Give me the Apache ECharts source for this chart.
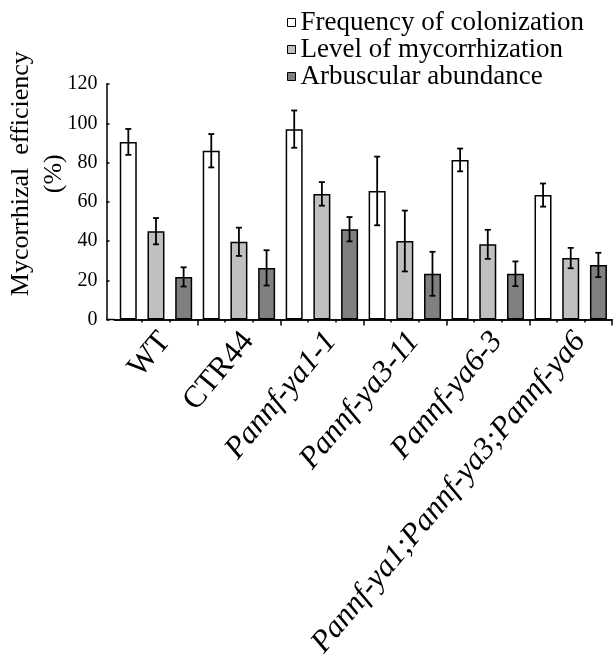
<!DOCTYPE html>
<html>
<head>
<meta charset="utf-8">
<script src="https://cdn.jsdelivr.net/npm/echarts@6/dist/echarts.min.js"></script>
<style>html,body{margin:0;padding:0;background:#fff}#c{width:613px;height:668px}</style>
</head>
<body>
<div id="c"></div>
<script>
const categories = ['WT', 'CTR44', 'Pannf-ya1-1', 'Pannf-ya3-11', 'Pannf-ya6-3', 'Pannf-ya1;Pannf-ya3;Pannf-ya6'];
const italicCats = [false, false, true, true, true, true];
const seriesNames = ['Frequency of colonization', 'Level of mycorrhization', 'Arbuscular abundance'];
const frequency = [90.5, 86, 97, 65.5, 81.3, 63.4];
const frequencyErr = [6.6, 8.5, 9.5, 17.5, 5.8, 5.9];
const level = [45, 39.6, 64, 40, 38.3, 31.3];
const levelErr = [6.7, 7.2, 6, 15.5, 7.4, 5.2];
const arbuscular = [21.7, 26.3, 46, 23.3, 23.3, 27.8];
const arbuscularErr = [4.9, 9, 6.2, 11.2, 6.3, 6.2];
const yTicks = [0, 20, 40, 60, 80, 100, 120];

const colors = ['#ffffff', '#c0c0c0', '#808080'];
const values = [frequency, level, arbuscular];
const errs = [frequencyErr, levelErr, arbuscularErr];

const FONT = 'Liberation Serif';
const W = 613, H = 668;
const gridLeft = 114.5, gridTop = 84, axisY = 319.5, gridRightX = 612.2;
const yOffset = 8;

const chart = echarts.init(document.getElementById('c'), null, {renderer: 'canvas'});

const barSeries = seriesNames.map((name, k) => ({
  name: name,
  type: 'bar',
  xAxisIndex: 0,
  yAxisIndex: 0,
  data: values[k],
  barWidth: 17,
  barGap: '63%',
  itemStyle: {color: colors[k], borderColor: '#000', borderWidth: 1.5},
  emphasis: {disabled: true},
  z: 2
}));

const errSeries = seriesNames.map((name, k) => ({
  name: name + ' err',
  type: 'custom',
  xAxisIndex: 0,
  yAxisIndex: 0,
  z: 5,
  encode: {x: 0, y: 1},
  data: values[k].map((v, i) => [i, v, errs[k][i]]),
  renderItem: function (params, api) {
    const i = api.value(0), v = api.value(1), e = api.value(2);
    const band = api.size([1, 0])[0];
    const c = api.coord([i, v]);
    const x = c[0] + (k - 1) * band / 3;
    const yt = api.coord([i, v + e])[1];
    const yb = api.coord([i, v - e])[1];
    const cap = 3;
    const st = {stroke: '#000', lineWidth: 1.8};
    return {
      type: 'group',
      children: [
        {type: 'line', shape: {x1: x, y1: yt, x2: x, y2: yb}, style: st},
        {type: 'line', shape: {x1: x - cap, y1: yt, x2: x + cap, y2: yt}, style: st},
        {type: 'line', shape: {x1: x - cap, y1: yb, x2: x + cap, y2: yb}, style: st}
      ]
    };
  }
}));

const minorCats = [];
categories.forEach(c => seriesNames.forEach(s => minorCats.push(c + '|' + s)));

const option = {
  animation: false,
  backgroundColor: '#ffffff',
  grid: {left: gridLeft, top: gridTop, right: W - gridRightX, bottom: H - axisY, containLabel: false, outerBoundsMode: 'none'},
  legend: {
    data: seriesNames,
    orient: 'vertical',
    left: 287,
    top: 9,
    itemWidth: 8,
    itemHeight: 8,
    itemGap: 0,
    padding: 0,
    icon: 'rect',
    selectedMode: false,
    itemStyle: {borderColor: '#000', borderWidth: 1},
    textStyle: {fontFamily: FONT, fontSize: 27, color: '#000', lineHeight: 26, padding: [0, 0, 0, 0]}
  },
  xAxis: [
    {
      type: 'category',
      data: categories,
      position: 'bottom',
      axisLine: {show: true, lineStyle: {color: '#000', width: 1.5}},
      axisTick: {show: true, length: 6, lineStyle: {color: '#000', width: 1.5}, interval: function (i) { return i !== 0; }},
      axisLabel: {
        rotate: 50,
        margin: 9,
        interval: 0,
        hideOverlap: false,
        padding: [24, 0, 0, 0],
        fontFamily: FONT,
        fontSize: 31,
        color: '#000',
        formatter: function (val, idx) {
          return (italicCats[idx] ? '{i|' : '{n|') + val + '}';
        },
        rich: {
          i: {fontFamily: FONT, fontSize: 31, fontStyle: 'italic', color: '#000'},
          n: {fontFamily: FONT, fontSize: 31, color: '#000'}
        }
      },
      splitLine: {show: false}
    },
    {
      type: 'category',
      data: minorCats,
      min: 0,
      max: minorCats.length - 1,
      position: 'bottom',
      axisLine: {show: true, lineStyle: {color: '#000', width: 1.5}},
      axisTick: {show: true, length: 3, lineStyle: {color: '#000', width: 1.5}, interval: function (i) { return i !== 0; }},
      axisLabel: {show: false},
      splitLine: {show: false}
    }
  ],
  yAxis: {
    type: 'value',
    min: yTicks[0],
    max: yTicks[yTicks.length - 1],
    interval: yTicks[1] - yTicks[0],
    offset: yOffset,
    name: 'Mycorrhizal  efficiency\n(%)',
    nameLocation: 'middle',
    nameRotate: 90,
    nameGap: 36,
    nameMoveOverlap: false,
    nameTextStyle: {fontFamily: FONT, fontSize: 26, lineHeight: 33, color: '#000', padding: [0, 0, 0, 56]},
    axisLine: {show: true, lineStyle: {color: '#000', width: 1.5}},
    axisTick: {show: true, inside: true, length: 3, lineStyle: {color: '#000', width: 1.5}},
    axisLabel: {fontFamily: FONT, fontSize: 20, color: '#000', margin: 9},
    splitLine: {show: false}
  },
  series: barSeries.concat(errSeries)
};

chart.setOption(option);

const y0 = chart.convertToPixel({yAxisIndex: 0}, yTicks[0]);
chart.setOption({
  graphic: [{
    type: 'line',
    shape: {x1: gridLeft - yOffset, y1: y0, x2: gridLeft, y2: y0},
    style: {stroke: '#000', lineWidth: 1.5},
    z: 10
  }]
});
</script>
</body>
</html>
